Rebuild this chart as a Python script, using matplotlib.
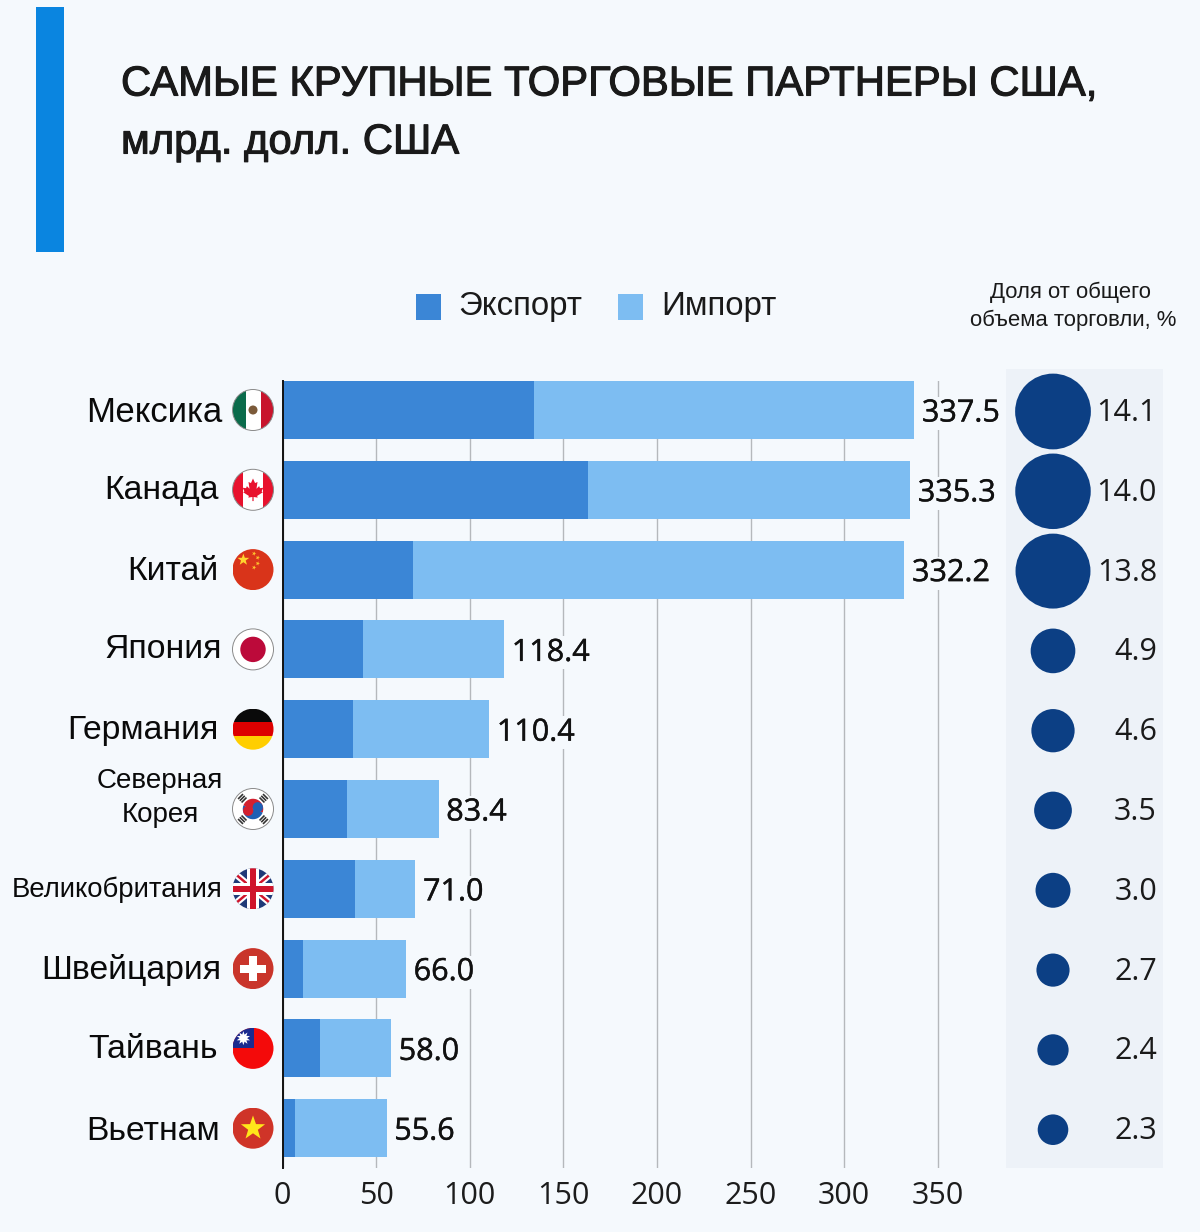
import numpy as np
import matplotlib
matplotlib.use("Agg")
import matplotlib.pyplot as plt
import matplotlib.patheffects as pe
from matplotlib.patches import Circle, Rectangle, Polygon, Wedge

plt.rcParams['font.family'] = ['Liberation Sans', 'DejaVu Sans']

countries = ['Мексика', 'Канада', 'Китай', 'Япония', 'Германия', 'Северная\nКорея',
             'Великобритания', 'Швейцария', 'Тайвань', 'Вьетнам']
export = [134.4, 163.2, 69.7, 43.0, 37.7, 34.4, 38.7, 10.9, 20.0, 6.7]
total = [337.5, 335.3, 332.2, 118.4, 110.4, 83.4, 71.0, 66.0, 58.0, 55.6]
share = [14.1, 14.0, 13.8, 4.9, 4.6, 3.5, 3.0, 2.7, 2.4, 2.3]
ticks = [0, 50, 100, 150, 200, 250, 300, 350]
flags = ['mx', 'ca', 'cn', 'jp', 'de', 'kr', 'gb', 'ch', 'tw', 'vn']

BG = '#f5f9fd'
EXP = '#3b86d6'
IMP = '#7dbdf2'
DARK = '#0c3f84'
W, H = 1200, 1232

fig = plt.figure(figsize=(W / 100, H / 100), dpi=100, facecolor=BG)

# overlay in pixel coordinates for the decoration
deco = fig.add_axes([0, 0, 1, 1])
deco.set_xlim(0, W)
deco.set_ylim(H, 0)
deco.axis('off')

# main chart, 0 at x=282.5 and 350 at x=937.5
left, right, top, bottom = 282.5, 1000, 381, 1168
ax = fig.add_axes([left / W, 1 - bottom / H, (right - left) / W, (bottom - top) / H])
ax.patch.set_alpha(0)
ax.set_xlim(0, (right - left) / 1.872)
ax.set_ylim((bottom - 410) / 79.8, (top - 410) / 79.8)

rows = np.arange(len(countries))
imp = [t - e for t, e in zip(total, export)]
ax.barh(rows, export, height=0.727, color=EXP, zorder=3)
ax.barh(rows, imp, left=export, height=0.727, color=IMP, zorder=3)
ax.set_xticks(ticks)
ax.set_yticks([])
ax.xaxis.grid(True, color='#b5b8bc', lw=1)
ax.set_axisbelow(True)
ax.tick_params(axis='x', length=0, pad=9, labelsize=22, labelcolor='#1c1c1c')
for t in ax.get_xticklabels():
    t.set_family('Open Sans')
for s in ['top', 'right', 'bottom']:
    ax.spines[s].set_visible(False)
ax.spines['left'].set_linewidth(1.4)
ax.spines['left'].set_color('#111111')
ax.spines['left'].set_zorder(5)

heavy = [pe.withStroke(linewidth=0.3, foreground='#111111')]
for i, t in enumerate(total):
    ax.annotate(f'{t:.1f}', (t, i), xytext=(5.5, -2.5), textcoords='offset points', va='center',
                fontsize=22, family='Open Sans', color='#111111', zorder=4, path_effects=heavy,
                bbox=dict(fc=BG, ec='none', pad=1))


def row_y(i):
    return 410 + 79.8 * i


def star(x, y, r, color, rot=0):
    a = np.radians(np.arange(10) * 36 - 90 + rot)
    rad = np.where(np.arange(10) % 2 == 0, r, r * 0.4)
    return Polygon(np.c_[x + rad * np.cos(a), y + rad * np.sin(a)], fc=color, ec='none')


def draw_flag(code, x, y, r):
    clip = Circle((x, y), r, fc='white', ec='none', zorder=5)
    deco.add_patch(clip)
    parts = []
    rect = lambda a, b, c, d, col: parts.append(
        Rectangle((x + a * r, y + b * r), (c - a) * r, (d - b) * r, fc=col, ec='none'))
    if code == 'mx':
        rect(-1, -1, -0.33, 1, '#0b6b4b')
        rect(0.38, -1, 1, 1, '#c8142c')
        parts.append(Circle((x, y), 0.22 * r, fc='#7b5a3a', ec='none'))
    elif code == 'ca':
        rect(-1, -1, -0.5, 1, '#e8112d')
        rect(0.5, -1, 1, 1, '#e8112d')
        leaf = [(0, -.55), (.1, -.33), (.22, -.38), (.17, -.05), (.3, -.18), (.34, -.08), (.5, -.1),
                (.42, .08), (.48, .12), (.2, .3), (.23, .38), (.03, .35), (.03, .55), (-.03, .55),
                (-.03, .35), (-.23, .38), (-.2, .3), (-.48, .12), (-.42, .08), (-.5, -.1), (-.34, -.08),
                (-.3, -.18), (-.17, -.05), (-.22, -.38), (-.1, -.33)]
        parts.append(Polygon([(x + a * r, y + b * r) for a, b in leaf], fc='#e8112d', ec='none'))
    elif code == 'cn':
        rect(-1, -1, 1, 1, '#d9341a')
        parts.append(star(x - 0.47 * r, y - 0.48 * r, 0.3 * r, '#ffd52e'))
        for a, b in [(.05, -.78), (.23, -.58), (.23, -.3), (.05, -.1)]:
            parts.append(star(x + a * r, y + b * r, 0.11 * r, '#ffc62e', 20))
    elif code == 'jp':
        parts.append(Circle((x, y), 0.62 * r, fc='#bc0a3a', ec='none'))
    elif code == 'de':
        rect(-1, -1, 1, -0.33, '#0a0a0a')
        rect(-1, -0.33, 1, 0.33, '#dd0000')
        rect(-1, 0.33, 1, 1, '#ffce00')
    elif code == 'kr':
        parts.append(Wedge((x, y), 0.5 * r, 200, 20, fc='#d3202f', ec='none'))
        parts.append(Wedge((x, y), 0.5 * r, 20, 200, fc='#1f5fb4', ec='none'))
        parts.append(Circle((x - 0.235 * r, y + 0.085 * r), 0.25 * r, fc='#d3202f', ec='none'))
        parts.append(Circle((x + 0.235 * r, y - 0.085 * r), 0.25 * r, fc='#1f5fb4', ec='none'))
        for sx, sy in [(-1, -1), (1, -1), (-1, 1), (1, 1)]:
            ang = np.degrees(np.arctan2(sx, -sy))
            for k in (0.62, 0.74, 0.86):
                cx, cy = x + sx * k * r * 0.707, y + sy * k * r * 0.707
                parts.append(Rectangle((cx - 0.17 * r, cy - 0.04 * r), 0.34 * r, 0.08 * r,
                                       fc='#333333', ec='none', rotation_point='center', angle=ang))
    elif code == 'gb':
        rect(-1, -1, 1, 1, '#1f3a78')
        for ang, wid, col in [(40, 0.32, 'white'), (-40, 0.32, 'white'), (40, 0.12, '#cf142b'), (-40, 0.12, '#cf142b')]:
            parts.append(Rectangle((x - 1.5 * r, y - wid * r / 2), 3 * r, wid * r, fc=col, ec='none',
                                   rotation_point='center', angle=ang))
        rect(-1, -0.3, 1, 0.3, 'white')
        rect(-0.3, -1, 0.3, 1, 'white')
        rect(-1, -0.16, 1, 0.16, '#cf142b')
        rect(-0.16, -1, 0.16, 1, '#cf142b')
    elif code == 'ch':
        rect(-1, -1, 1, 1, '#c9352b')
        rect(-0.62, -0.2, 0.62, 0.2, 'white')
        rect(-0.2, -0.62, 0.2, 0.62, 'white')
    elif code == 'tw':
        rect(-1, -1, 1, 1, '#f40a0a')
        rect(-1, -1, 0.05, -0.02, '#1a2b8f')
        parts.append(star(x - 0.47 * r, y - 0.5 * r, 0.34 * r, 'white'))
        parts.append(star(x - 0.47 * r, y - 0.5 * r, 0.34 * r, 'white', 36))
    elif code == 'vn':
        rect(-1, -1, 1, 1, '#cf3428')
        parts.append(star(x, y, 0.62 * r, '#ffe61a'))
    for p in parts:
        p.set_zorder(6)
        deco.add_patch(p)
        p.set_clip_path(clip)
    if code in ('jp', 'kr', 'ca', 'mx'):
        deco.add_patch(Circle((x, y), r, fc='none', ec='#8a8a8a', lw=0.7, zorder=7))


# label right edges follow the picture
label_right = [222, 219, 219, 222, 219, 223, 222, 221, 218, 220]
label_y = [413, 490, 571, 650, 730, 798, 890, 970, 1050, 1131]
label_size = [25, 24.3, 24.3, 24.3, 24.3, 20, 19.8, 24.3, 24.3, 24.3]
for i, name in enumerate(countries):
    deco.text(label_right[i], label_y[i], name, ha='right', va='center', ma='center',
              fontsize=label_size[i], color='#0a0a0a', linespacing=1.45)
    draw_flag(flags[i], 253, row_y(i), 20.5)

# title block
title_fx = [pe.withStroke(linewidth=0.8, foreground='#1a1a1a')]
deco.add_patch(Rectangle((36, 7), 28, 245, fc='#0a85e0', ec='none'))
deco.text(121, 95.5, 'САМЫЕ КРУПНЫЕ ТОРГОВЫЕ ПАРТНЕРЫ США,', fontsize=30.1, color='#1a1a1a',
          va='baseline', path_effects=title_fx)
deco.text(121, 153.5, 'млрд. долл. США', fontsize=30.1, color='#1a1a1a', va='baseline', path_effects=title_fx)

# legend
deco.add_patch(Rectangle((416, 294), 25, 26, fc=EXP, ec='none'))
deco.add_patch(Rectangle((618, 294), 25, 26, fc=IMP, ec='none'))
deco.text(458, 306, 'Экспорт', fontsize=23.8, va='center', color='#1a1a1a')
deco.text(661, 306, 'Импорт', fontsize=23.8, va='center', color='#1a1a1a')

# share column
deco.add_patch(Rectangle((1006, 369), 157, 799, fc='#edf2f8', ec='none'))
deco.text(1070, 292, 'Доля от общего', ha='center', va='center', fontsize=15.9, color='#1a1a1a')
deco.text(1073, 320, 'объема торговли, %', ha='center', va='center', fontsize=15.9, color='#1a1a1a')
deco.scatter([1053] * len(share), [row_y(i) + 1.5 for i in rows], s=[211 * v for v in share],
             color=DARK, linewidths=0, zorder=3)
for i, v in enumerate(share):
    deco.text(1157, row_y(i) + 3, f'{v:.1f}', ha='right', va='center', fontsize=22,
              family='Open Sans', color='#1a1a1a', zorder=4)

fig.savefig('out.png', dpi=100, facecolor=BG)
